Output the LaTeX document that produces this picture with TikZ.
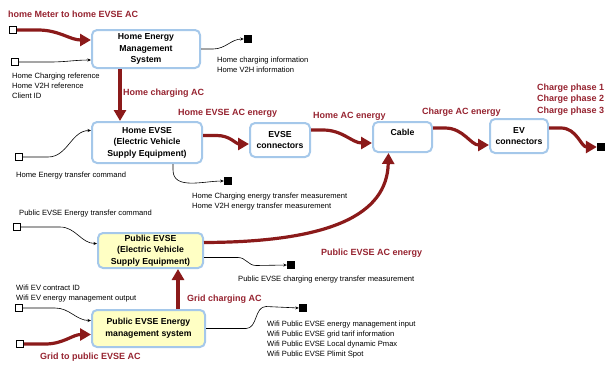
\documentclass[tikz,border=0pt]{standalone}
\usepackage{fontspec}
\setmainfont{Liberation Sans}
\usetikzlibrary{arrows.meta,calc}
\definecolor{pwr}{HTML}{8B1A1A}
\definecolor{lblred}{HTML}{962330}
\definecolor{boxblue}{HTML}{A5C8EA}
\definecolor{boxyellow}{HTML}{FFFFC4}
\newcommand{\boxfont}{\fontsize{8.7}{11.5}\selectfont\bfseries}
\newcommand{\lblfont}{\fontsize{9}{11.5}\selectfont\bfseries}
\newcommand{\smallfont}{\fontsize{7.6}{10}\selectfont}
\tikzset{
  box/.style={draw=boxblue, line width=2pt, rounded corners=5pt, fill=white, align=center, font=\boxfont, inner sep=1pt},
  ybox/.style={box, fill=boxyellow},
  power/.style={draw=pwr, line width=3.2pt, -{Triangle[length=11pt,width=12pt]}},
  sig/.style={draw=black, line width=0.6pt, -{Stealth[length=3.5pt,width=3pt]}},
  insq/.style={draw=black, line width=1pt, fill=white, minimum size=7pt, inner sep=0pt},
  outsq/.style={fill=black, minimum size=8pt, inner sep=0pt},
  lbl/.style={text=lblred, font=\lblfont, inner sep=0pt, anchor=base west},
  small/.style={font=\smallfont, align=left, inner sep=0pt, anchor=base west}
}
\begin{document}
\begin{tikzpicture}[x=1pt,y=-1pt]
\useasboundingbox (0,0) rectangle (607,365);
% boxes
\node[box, minimum width=108pt, minimum height=38pt] (hems) at (146,49) {Home Energy\\Management\\System};
\node[box, minimum width=110pt, minimum height=41pt] (hevse) at (147,142.5) {Home EVSE\\(Electric Vehicle\\Supply Equipment)};
\node[box, minimum width=60pt, minimum height=34pt] (evsec) at (280,140) {EVSE\\connectors};
\node[box, minimum width=59pt, minimum height=30pt, text depth=9pt] (cable) at (402.5,137) {Cable};
\node[box, minimum width=58pt, minimum height=34pt] (evc) at (519,136) {EV\\connectors};
\node[ybox, minimum width=105pt, minimum height=35pt] (pevse) at (150.5,250.5) {Public EVSE\\(Electric Vehicle\\Supply Equipment)};
\node[ybox, minimum width=113pt, minimum height=37pt] (pems) at (148.5,328.5) {Public EVSE Energy\\management system};
% squares
\node[insq] (msq) at (13,30) {};
\node[insq] (hsq) at (15,62) {};
\node[insq] (hesq) at (19,157) {};
\node[insq] (pisq) at (17,227) {};
\node[insq] (wsq) at (19,308) {};
\node[insq] (gsq) at (20,344) {};
\node[outsq] (hemsout) at (248,39) {};
\node[outsq] (hevseout) at (228,181) {};
\node[outsq] (evout) at (601,147) {};
\node[outsq] (pevseout) at (291,265) {};
\node[outsq] (pemsout) at (303,308) {};
% coordinates
\coordinate (c1) at ($(hems.south)+(-26,0)$);
\coordinate (c2) at ($(pems.north)+(29.5,0)$);
% power arrows
\draw[power] (msq.east) -- (38,30) to[out=0,in=180] ($(hems.west)+(0,-9)$);
\draw[power] (c1) -- (c1 |- hevse.north);
\draw[power] ($(hevse.east)+(0,-7)$) -- ++(14,0) to[out=0,in=180] ($(evsec.west)+(0,4)$);
\draw[power] ($(evsec.east)+(0,-10)$) -- ++(12,0) to[out=0,in=180] ($(cable.west)+(0,6)$);
\draw[power] ($(cable.east)+(0,-9)$) -- ++(12,0) to[out=0,in=180] ($(evc.west)+(0,9)$);
\draw[power] ($(evc.east)+(0,-8)$) -- ++(12,0) to[out=0,in=180] (evout.west);
\draw[power] ($(pevse.east)+(0,-8)$) .. controls (330,242) and (387,215) .. ($(cable.south)+(-14,0)$);
\draw[power] (c2) -- (c2 |- pevse.south);
\draw[power] (gsq.east) -- (45,344) to[out=0,in=180] ($(pems.west)+(0,6)$);
% signal arrows
\draw[sig] (hsq.east) -- (50,62) to[out=0,in=180] ($(hems.west)+(0,11)$);
\draw[sig] (hems.east) -- ++(12,0) to[out=0,in=180] (hemsout.west);
\draw[sig] (hesq.east) -- (48,157) to[out=0,in=180] ($(hevse.west)+(0,-12)$);
\draw[sig] ($(hevse.south)+(26,0)$) -- ++(0,6) to[out=-90,in=180] (hevseout.west);
\draw[sig] (pisq.east) -- (60,227) to[out=0,in=180] ($(pevse.west)+(0,-7)$);
\draw[sig] ($(pevse.east)+(0,7)$) -- ++(34,0) to[out=0,in=180] ++(18,8) -- (pevseout.west);
\draw[sig] (wsq.east) -- (55,308) to[out=0,in=180] ($(pems.west)+(0,-8)$);
\draw[sig] (pems.east) -- ++(40,0) to[out=0,in=180] ++(20,-22) -- (pemsout.west);
% labels
\node[lbl] (l1) at (8,17) {home Meter to home EVSE AC};
\node[lbl] (l2) at (123,95) {Home charging AC};
\node[lbl] (l3) at (178,115) {Home EVSE AC energy};
\node[lbl] (l4) at (313,118) {Home AC energy};
\node[lbl] (l5) at (422,114) {Charge AC energy};
\node[lbl, align=left] (l6) at (537,113) {Charge phase 1\\Charge phase 2\\Charge phase 3};
\node[lbl] (l7) at (321,255) {Public EVSE AC energy};
\node[lbl] (l8) at (187,301) {Grid charging AC};
\node[lbl] (l9) at (40,359) {Grid to public EVSE AC};
% small texts (base = last line's baseline)
\node[small] (t1) at (12,98) {Home Charging reference\\Home V2H reference\\Client ID};
\node[small] (t2) at (217,72) {Home charging information\\Home V2H information};
\node[small] (t3) at (16,177) {Home Energy transfer command};
\node[small] (t4) at (192,208) {Home Charging energy transfer measurement\\Home V2H energy transfer measurement};
\node[small] (t5) at (19,215) {Public EVSE Energy transfer command};
\node[small] (t6) at (238,281) {Public EVSE charging energy transfer measurement};
\node[small] (t7) at (16,300) {Wifi EV contract ID\\Wifi EV energy management output};
\node[small] (t8) at (267,356) {Wifi Public EVSE energy management input\\Wifi Public EVSE grid tarif information\\Wifi Public EVSE Local dynamic Pmax\\Wifi Public EVSE Plimit Spot};
\end{tikzpicture}
\end{document}
